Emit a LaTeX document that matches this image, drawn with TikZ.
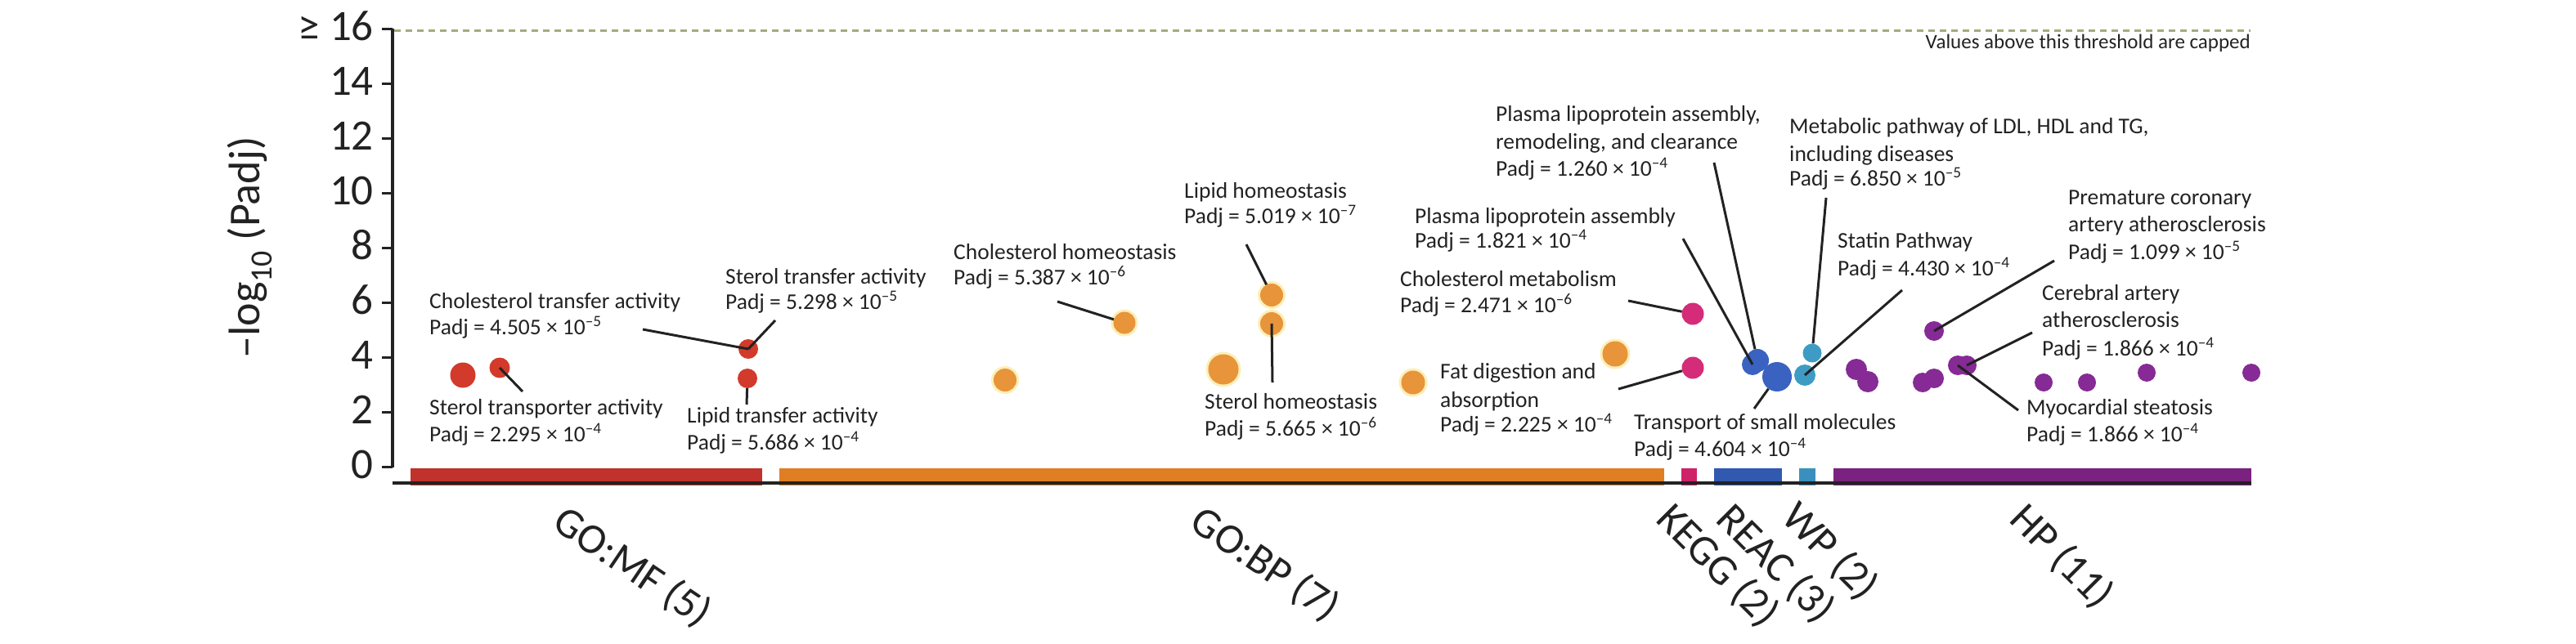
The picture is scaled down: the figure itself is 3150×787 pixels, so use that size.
\documentclass[tikz,border=0pt]{standalone}
\usepackage{fontspec}
\setmainfont{Carlito}
\definecolor{txt}{HTML}{222222}
\definecolor{redbar}{HTML}{C0322B}
\definecolor{reddot}{HTML}{D23A2C}
\definecolor{orangebar}{HTML}{E07E23}
\definecolor{orangedot}{HTML}{E8943A}
\definecolor{glowc}{HTML}{FCEFB8}
\definecolor{pinkbar}{HTML}{CF2369}
\definecolor{pinkdot}{HTML}{D42C78}
\definecolor{bluebar}{HTML}{3159B0}
\definecolor{bluedot}{HTML}{3A62C0}
\definecolor{tealbar}{HTML}{3A90BD}
\definecolor{tealdot}{HTML}{3E9CC4}
\definecolor{purplebar}{HTML}{7B2180}
\definecolor{purpledot}{HTML}{862A96}
\definecolor{thresh}{HTML}{A5AA7D}
\newcommand{\mypadj}[2]{Padj = #1 × 10\textsuperscript{–#2}}
\begin{document}
\begin{tikzpicture}[x=1pt,y=-1pt,
  ann/.style={anchor=base west, inner sep=0, font=\fontsize{27.5}{33}\selectfont, text=txt},
  ticklab/.style={anchor=base east, inner sep=0, font=\fontsize{53}{60}\selectfont, text=txt},
  catlab/.style={anchor=north west, inner sep=0, font=\fontsize{52}{60}\selectfont, text=txt},
  lead/.style={line width=3pt, draw=txt},
  dotbase/.style={circle, inner sep=0, draw=none},
  rdot/.style={dotbase, fill=reddot},
  odot/.style={dotbase, fill=orangedot, preaction={draw=glowc, line width=6pt}},
  kdot/.style={dotbase, fill=pinkdot},
  bdot/.style={dotbase, fill=bluedot},
  wdot/.style={dotbase, fill=tealdot},
  hdot/.style={dotbase, fill=purpledot}
]
\useasboundingbox (0,0) rectangle (3150,787);

% threshold
\coordinate (thA) at (482,37);
\coordinate (thB) at (2752,37);
\draw[thresh, line width=3pt, dash pattern=on 8pt off 6pt] (thA) -- (thB);
\node[anchor=base east, inner sep=0, font=\fontsize{25}{30}\selectfont, text=txt] (note) at (2752,59) {Values above this threshold are capped};

% y axis
\draw[line width=3.3pt, txt] (480,35) -- (480,571.5);
\foreach \v in {0,2,...,16} {
  \draw[line width=3pt, txt] (467,{571.5-33.53*\v}) -- (480,{571.5-33.53*\v});
}
\foreach \v in {0,2,...,14} {
  \node[ticklab] (t\v) at (457,{571.5-33.53*\v+14}) {\v};
}
\node[ticklab] (t16) at (457,{571.5-33.53*16+14}) {≥ 16};
\node[rotate=90, anchor=base, inner sep=0, font=\fontsize{54}{60}\selectfont, text=txt] (ylab) at (317,303) {–log\textsubscript{10} (Padj)};

% bars
\fill[redbar] (502,573) rectangle (931.5,594);
\fill[orangebar] (953,573) rectangle (2035,594);
\fill[pinkbar] (2056,573) rectangle (2075,594);
\fill[bluebar] (2096,573) rectangle (2179,594);
\fill[tealbar] (2200,573) rectangle (2220,594);
\fill[purplebar] (2241.5,573) rectangle (2753,594);
\draw[line width=4pt, txt] (480,591) -- (2753,591);

% category labels
\node[catlab, rotate=-34] (cMF) at (695,614) {GO:MF (5)};
\node[catlab, rotate=-34] (cBP) at (1474,614) {GO:BP (7)};
\node[catlab, rotate=-45] (cKEGG) at (2050,610) {KEGG (2)};
\node[catlab, rotate=-45] (cREAC) at (2123,610) {REAC (3)};
\node[catlab, rotate=-45] (cWP) at (2203,608) {WP (2)};
\node[catlab, rotate=-45] (cHP) at (2482,610) {HP (11)};

% dots GO:MF
\node[rdot, minimum size=31pt] (r1) at (566,459) {};
\node[rdot, minimum size=25pt] (r2) at (611,450) {};
\node[rdot, minimum size=24pt] (r3) at (915,427) {};
\node[rdot, minimum size=24pt] (r4) at (914,463) {};
% GO:BP
\node[odot, minimum size=28pt] (o1) at (1229,465) {};
\node[odot, minimum size=27pt] (o2) at (1375,395) {};
\node[odot, minimum size=37pt] (o3) at (1496,452) {};
\node[odot, minimum size=28pt] (o4) at (1555,361) {};
\node[odot, minimum size=28pt] (o5) at (1555,396) {};
\node[odot, minimum size=29pt] (o6) at (1728,468) {};
\node[odot, minimum size=31pt] (o7) at (1975,433) {};
% KEGG
\node[kdot, minimum size=27pt] (k1) at (2070,384) {};
\node[kdot, minimum size=27pt] (k2) at (2070,450) {};
% REAC
\node[bdot, minimum size=26pt] (b1b) at (2143,446) {};
\node[bdot, minimum size=28pt] (b1) at (2149,441) {};
\node[bdot, minimum size=36pt] (b2) at (2173,461) {};
% WP
\node[wdot, minimum size=23pt] (w1) at (2216,432) {};
\node[wdot, minimum size=26pt] (w2) at (2207,459) {};
% HP
\node[hdot, minimum size=26pt] (h1) at (2270,452) {};
\node[hdot, minimum size=26pt] (h2) at (2284,467) {};
\node[hdot, minimum size=24pt] (h3) at (2351,468) {};
\node[hdot, minimum size=24pt] (h4) at (2365,463) {};
\node[hdot, minimum size=24pt] (h5) at (2365,405) {};
\node[hdot, minimum size=24pt] (h6) at (2394,447) {};
\node[hdot, minimum size=24pt] (h7) at (2405,447) {};
\node[hdot, minimum size=22pt] (h8) at (2499,468) {};
\node[hdot, minimum size=22pt] (h9) at (2552,468) {};
\node[hdot, minimum size=22pt] (h10) at (2625,456) {};
\node[hdot, minimum size=22pt] (h11) at (2753,456) {};

% annotations
\node[ann] (a1a) at (525,377) {Cholesterol transfer activity};
\node[ann] (a1b) at (525,409) {\mypadj{4.505}{5}};
\node[ann] (a2a) at (887,347) {Sterol transfer activity};
\node[ann] (a2b) at (887,378) {\mypadj{5.298}{5}};
\node[ann] (a3a) at (525,507) {Sterol transporter activity};
\node[ann] (a3b) at (525,540) {\mypadj{2.295}{4}};
\node[ann] (a4a) at (840,517) {Lipid transfer activity};
\node[ann] (a4b) at (840,550) {\mypadj{5.686}{4}};
\node[ann] (a5a) at (1166,317) {Cholesterol homeostasis};
\node[ann] (a5b) at (1166,348) {\mypadj{5.387}{6}};
\node[ann] (a6a) at (1448,242) {Lipid homeostasis};
\node[ann] (a6b) at (1448,273) {\mypadj{5.019}{7}};
\node[ann] (a7a) at (1473,500) {Sterol homeostasis};
\node[ann] (a7b) at (1473,533) {\mypadj{5.665}{6}};
\node[ann] (a8a) at (1761,463) {Fat digestion and};
\node[ann] (a8b) at (1761,498) {absorption};
\node[ann] (a8c) at (1761,528) {\mypadj{2.225}{4}};
\node[ann] (a9a) at (1712,350) {Cholesterol metabolism};
\node[ann] (a9b) at (1712,382) {\mypadj{2.471}{6}};
\node[ann] (a10a) at (1730,273) {Plasma lipoprotein assembly};
\node[ann] (a10b) at (1730,303) {\mypadj{1.821}{4}};
\node[ann] (a11a) at (1829,148) {Plasma lipoprotein assembly,};
\node[ann] (a11b) at (1829,182) {remodeling, and clearance};
\node[ann] (a11c) at (1829,215) {\mypadj{1.260}{4}};
\node[ann] (a12a) at (2188,163) {Metabolic pathway of LDL, HDL and TG,};
\node[ann] (a12b) at (2188,197) {including diseases};
\node[ann] (a12c) at (2188,227) {\mypadj{6.850}{5}};
\node[ann] (a13a) at (2247,303) {Statin Pathway};
\node[ann] (a13b) at (2247,337) {\mypadj{4.430}{4}};
\node[ann] (a14a) at (1998,525) {Transport of small molecules};
\node[ann] (a14b) at (1998,558) {\mypadj{4.604}{4}};
\node[ann] (a15a) at (2529,250) {Premature coronary};
\node[ann] (a15b) at (2529,283) {artery atherosclerosis};
\node[ann] (a15c) at (2529,317) {\mypadj{1.099}{5}};
\node[ann] (a16a) at (2497,367) {Cerebral artery};
\node[ann] (a16b) at (2497,400) {atherosclerosis};
\node[ann] (a16c) at (2497,435) {\mypadj{1.866}{4}};
\node[ann] (a17a) at (2478,507) {Myocardial steatosis};
\node[ann] (a17b) at (2478,540) {\mypadj{1.866}{4}};

% leader ends
\coordinate (l1) at (786,403);
\coordinate (l2) at (948,392);
\coordinate (l3) at (639,479);
\coordinate (l4) at (913,495);
\coordinate (l5) at (1293,369);
\coordinate (l6) at (1524,299);
\coordinate (l7) at (1556,468);
\coordinate (l8) at (1991,368);
\coordinate (l9) at (1979,476);
\coordinate (l10) at (2058,292);
\coordinate (l11) at (2096,199);
\coordinate (l12) at (2233,242);
\coordinate (l13) at (2326,355);
\coordinate (l14) at (2145,500);
\coordinate (l15) at (2512,319);
\coordinate (l16) at (2485,407);
\coordinate (l17) at (2468,502);

\draw[lead] (l1) -- (r3.center);
\draw[lead] (l2) -- (r3.center);
\draw[lead] (l3) -- (r2.center);
\draw[lead] (l4) -- (r4);
\draw[lead] (l5) -- (o2);
\draw[lead] (l6) -- (o4);
\draw[lead] (l7) -- (o5.center);
\draw[lead] (l8) -- (k1);
\draw[lead] (l9) -- (k2);
\draw[lead] (l10) -- (b1b.center);
\draw[lead] (l11) -- (b1);
\draw[lead] (l12) -- (w1);
\draw[lead] (l13) -- (w2.center);
\draw[lead] (l14) -- (b2);
\draw[lead] (l15) -- (h5.center);
\draw[lead] (l16) -- (h7.center);
\draw[lead] (l17) -- (h6.center);
\end{tikzpicture}
\end{document}
